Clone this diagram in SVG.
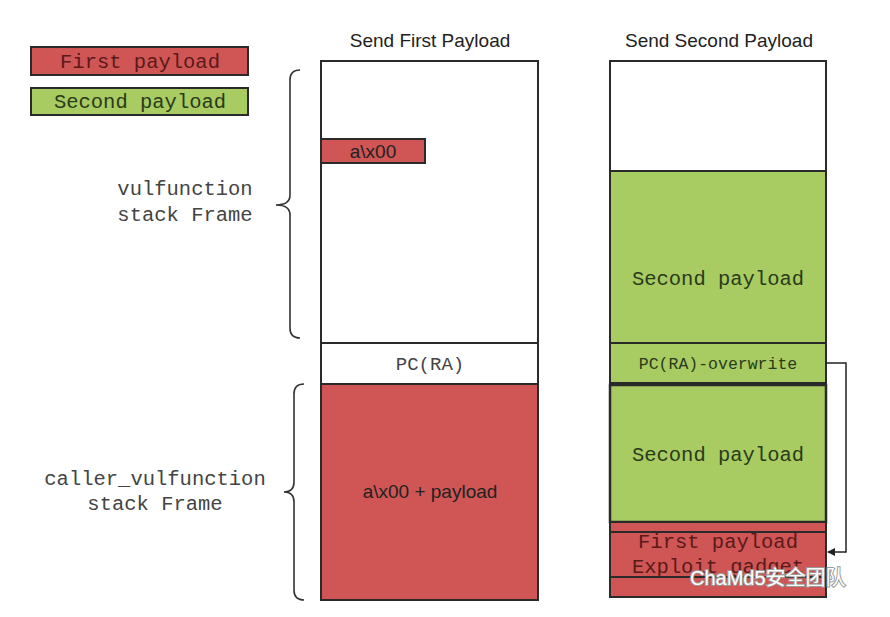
<svg xmlns="http://www.w3.org/2000/svg" width="890" height="617" viewBox="0 0 890 617">
<defs>
<style>
.mono{font-family:"Liberation Mono",monospace;font-size:20.5px;text-anchor:middle}
.sans{font-family:"Liberation Sans",Arial,sans-serif;font-size:19px;text-anchor:middle;fill:#222}
.red{fill:#d05555;stroke:#2a2a2a;stroke-width:2}
.green{fill:#a8cc62;stroke:#2a2a2a;stroke-width:2}
.white{fill:#fff;stroke:#2a2a2a;stroke-width:2}
.brace{fill:none;stroke:#333;stroke-width:1.6}
</style>
<marker id="ah" markerWidth="8" markerHeight="8" refX="7" refY="4" orient="auto" markerUnits="userSpaceOnUse"><path d="M0,0 L8,4 L0,8 z" fill="#222"/></marker>
</defs>
<rect width="890" height="617" fill="#fff"/>
<g id="legend">
<rect class="red" x="31" y="47" width="217" height="28"/>
<text class="mono" x="140" y="68" fill="#5a1a1a">First payload</text>
<rect class="green" x="31" y="88" width="217" height="27"/>
<text class="mono" x="140" y="108" fill="#2a3a1a">Second payload</text>
</g>
<g id="labels">
<text class="mono" x="185" y="195" fill="#444">vulfunction</text>
<text class="mono" x="185" y="221" fill="#444">stack Frame</text>
<text class="mono" x="155" y="485" fill="#444">caller_vulfunction</text>
<text class="mono" x="155" y="510" fill="#444">stack Frame</text>
<text class="sans" x="430" y="47">Send First Payload</text>
<text class="sans" x="719" y="47">Send Second Payload</text>
</g>
<g id="braces">
<path class="brace" d="M300,70 Q290,70 290,80 L290,195 Q290,205 276,205 Q290,205 290,215 L290,328 Q290,338 300,338"/>
<path class="brace" d="M304,384 Q294,384 294,394 L294,482 Q294,492 284,492 Q294,492 294,502 L294,590 Q294,600 304,600"/>
</g>
<g id="col1">
<rect class="white" x="321" y="61" width="217" height="282"/>
<rect class="red" x="321" y="139" width="104" height="24"/>
<text class="sans" x="373" y="158">a\x00</text>
<rect class="white" x="321" y="343" width="217" height="41"/>
<text class="mono" x="430" y="370" fill="#444" style="font-size:19px">PC(RA)</text>
<rect class="red" x="321" y="384" width="217" height="216"/>
<text class="sans" x="430" y="498">a\x00 + payload</text>
</g>
<g id="col2">
<rect class="white" x="610" y="61" width="216" height="110"/>
<rect class="green" x="610" y="171" width="216" height="172"/>
<text class="mono" x="718" y="285" fill="#2a3a1a">Second payload</text>
<rect class="green" x="610" y="343" width="216" height="40"/>
<text class="mono" x="718" y="369" fill="#2a3a1a" style="font-size:16.5px">PC(RA)-overwrite</text>
<rect class="green" x="610" y="385" width="216" height="137" style="stroke-width:2.5"/>
<text class="mono" x="718" y="461" fill="#2a3a1a">Second payload</text>
<rect class="red" x="610" y="522" width="216" height="75"/>
<rect class="red" x="610" y="532" width="216" height="45"/>
<text class="mono" x="718" y="548" fill="#5a1a1a">First payload</text>
<text class="mono" x="718" y="573" fill="#5a1a1a">Exploit gadget</text>
</g>
<g id="connectors">
<path d="M826,363 L846,363 L846,552 L828,552" fill="none" stroke="#222" stroke-width="1.5" marker-end="url(#ah)"/>
</g>
<g id="watermark">
<text x="690" y="585" style="font-family:'Liberation Sans','Noto Sans CJK SC',sans-serif;font-size:20px;fill:#fff;stroke:#999;stroke-width:2;paint-order:stroke">ChaMd5安全团队</text>
</g>
</svg>
